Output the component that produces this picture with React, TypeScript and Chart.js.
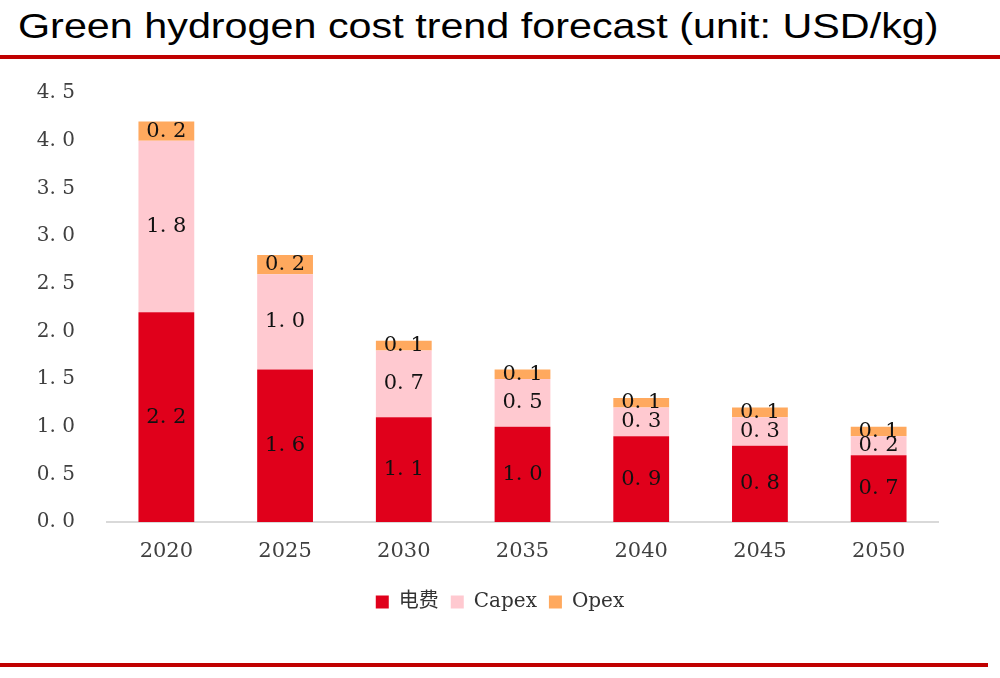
import React, { useEffect, useRef } from "react";
import { Chart, registerables } from "chart.js";

Chart.register(...registerables);

const categories = ["2020", "2025", "2030", "2035", "2040", "2045", "2050"];
const electricity = [2.2, 1.6, 1.1, 1.0, 0.9, 0.8, 0.7];
const capex = [1.8, 1.0, 0.7, 0.5, 0.3, 0.3, 0.2];
const opex = [0.2, 0.2, 0.1, 0.1, 0.1, 0.1, 0.1];
const seriesNames = ["电费", "Capex", "Opex"];
const yTicks = [0, 0.5, 1.0, 1.5, 2.0, 2.5, 3.0, 3.5, 4.0, 4.5];

const SERIF = "'DejaVu Serif', 'Liberation Serif', 'Noto Sans CJK SC', serif";
const fmt = (v: number) => v.toFixed(1).replace(".", ". ");

const labelPlugin = {
  id: "segLabels",
  afterDatasetsDraw(chart: any) {
    const ctx = chart.ctx;
    ctx.save();
    ctx.font = `21px ${SERIF}`;
    ctx.fillStyle = "#111111";
    ctx.textAlign = "center";
    ctx.textBaseline = "middle";
    chart.data.datasets.forEach((ds: any, di: number) => {
      const meta = chart.getDatasetMeta(di);
      meta.data.forEach((bar: any, i: number) => {
        const y = (bar.y + bar.base) / 2;
        ctx.fillText(fmt(ds.data[i]), bar.x, y);
      });
    });
    ctx.restore();
  },
};

export default function App() {
  const ref = useRef<HTMLCanvasElement>(null);
  useEffect(() => {
    if (!ref.current) return;
    const chart = new Chart(ref.current, {
      type: "bar",
      data: {
        labels: categories,
        datasets: [
          { label: seriesNames[0], data: electricity, backgroundColor: "#E0001B" },
          { label: seriesNames[1], data: capex, backgroundColor: "#FFC9D0" },
          { label: seriesNames[2], data: opex, backgroundColor: "#FFA95E" },
        ],
      },
      options: {
        animation: false,
        responsive: false,
        maintainAspectRatio: false,
        datasets: { bar: { categoryPercentage: 1, barPercentage: 0.47 } },
        layout: { padding: { left: 0, right: 0, top: -23, bottom: 10 } },
        plugins: {
          tooltip: { enabled: false },
          legend: {
            position: "bottom",
            labels: {
              boxWidth: 13,
              boxHeight: 13,
              font: { family: SERIF, size: 20 },
              color: "#333333",
              padding: 12,
            },
          },
        },
        scales: {
          x: {
            stacked: true,
            grid: { display: false, drawTicks: false },
            border: { display: true, color: "#D9D9D9", width: 2 },
            ticks: { font: { family: SERIF, size: 21 }, color: "#404040", padding: 17 },
            afterFit: (s: any) => {
              s.height = 58;
            },
          },
          y: {
            stacked: true,
            min: 0,
            max: 4.5,
            afterBuildTicks: (s: any) => {
              s.ticks = yTicks.map((v) => ({ value: v }));
            },
            grid: { display: false, drawTicks: false },
            border: { display: false },
            ticks: {
              font: { family: SERIF, size: 20 },
              color: "#404040",
              padding: 32,
              callback: (v: any) => fmt(Number(v)),
            },
            afterFit: (s: any) => {
              s.width = 107;
            },
          },
          yRight: {
            position: "right",
            display: true,
            grid: { display: false, drawTicks: false },
            border: { display: false },
            ticks: { display: false },
            afterFit: (s: any) => {
              s.width = 62;
            },
          },
        },
      },
      plugins: [labelPlugin],
    });
    return () => chart.destroy();
  }, []);

  return (
    <div style={{ position: "absolute", left: 0, top: 0, width: 1000, height: 678, background: "#fff", overflow: "hidden" }}>
      <div
        style={{
          position: "absolute",
          left: 18,
          top: 4,
          fontFamily: "'Liberation Sans', Arial, sans-serif",
          fontSize: 35,
          lineHeight: "44px",
          color: "#000",
          whiteSpace: "nowrap",
          transform: "scaleX(1.18)",
          transformOrigin: "left top",
        }}
      >
        Green hydrogen cost trend forecast (unit: USD/kg)
      </div>
      <div style={{ position: "absolute", left: 0, top: 55, width: 1000, height: 4, background: "#C00000" }} />
      <canvas ref={ref} width={1000} height={583} style={{ position: "absolute", left: 0, top: 49 }} />
      <div style={{ position: "absolute", left: 0, top: 663, width: 988, height: 4, background: "#C00000" }} />
    </div>
  );
}
